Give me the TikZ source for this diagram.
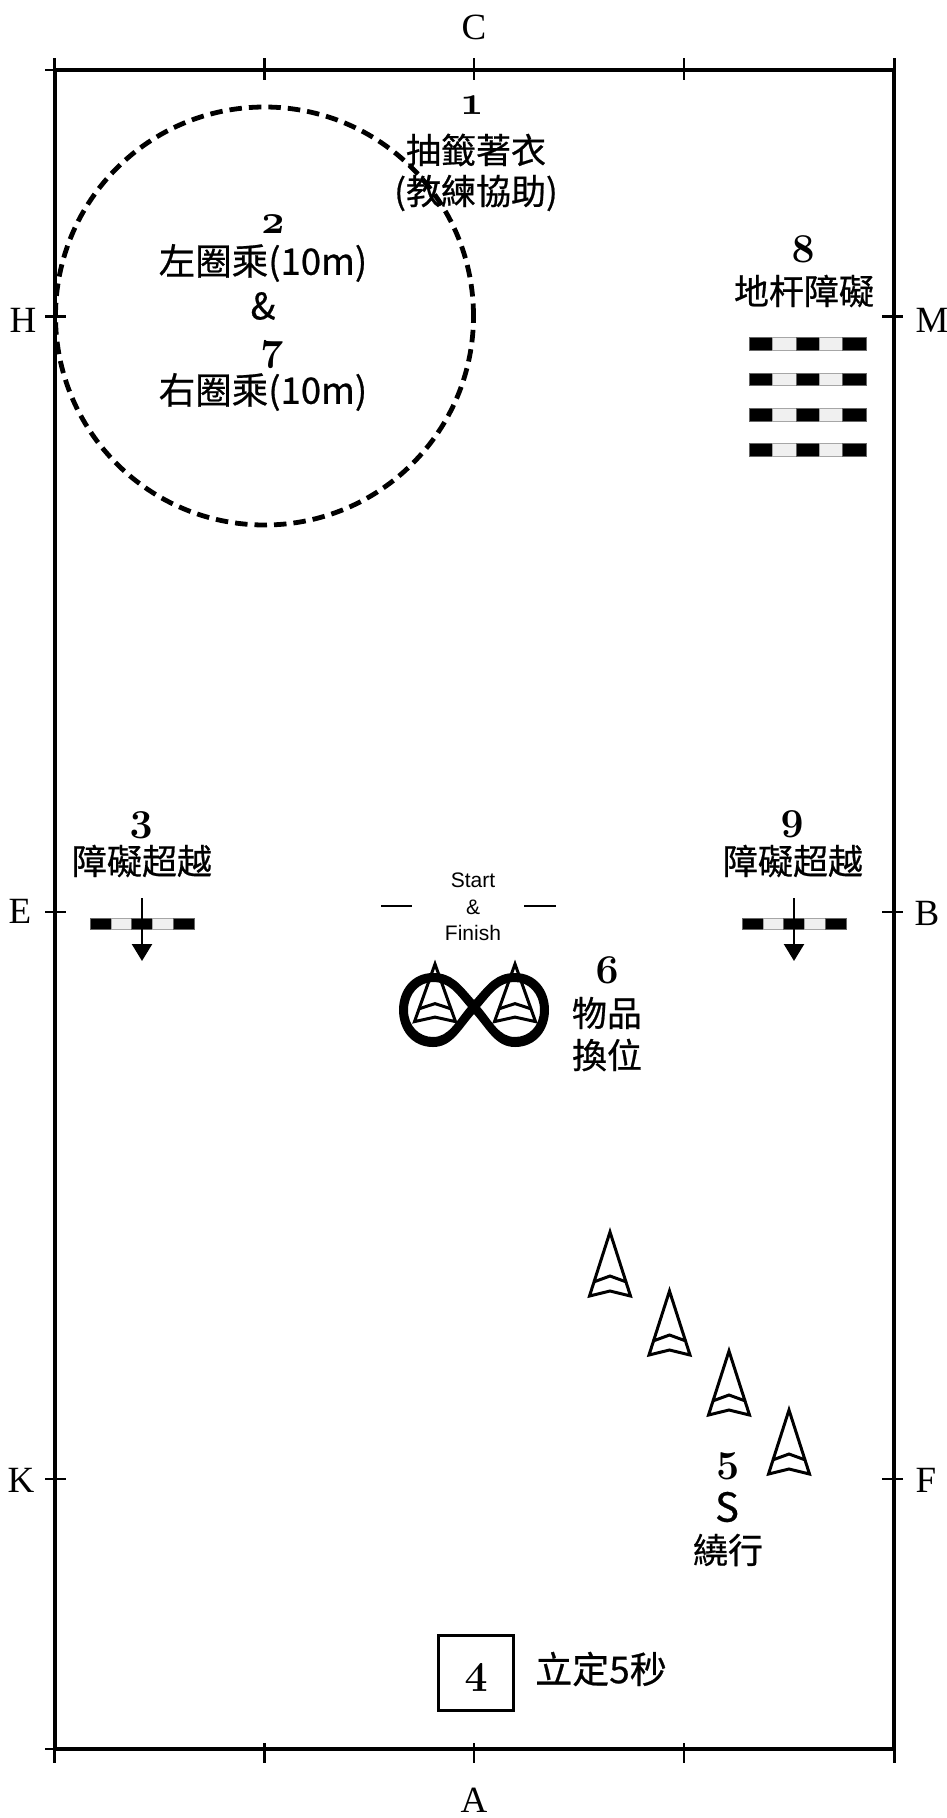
\documentclass[tikz,border=0pt]{standalone}
\usepackage{fontspec}
\setmainfont[FakeBold=0.6]{Noto Sans CJK TC}
\newfontfamily\numfont[Numbers=OldStyle]{Latin Modern Roman}
\newfontfamily\letfont{Liberation Serif}
\newfontfamily\sansfont{Liberation Sans}
\usetikzlibrary{arrows.meta}
\tikzset{
  x=1pt,y=-1pt,
  framel/.style={line width=4pt,black},
  tick/.style={line width=2.6pt,black},
  zh/.style={inner sep=0pt,font=\fontsize{35}{35}\selectfont},
  zhw/.style={inner sep=0pt,font=\fontsize{36.5}{36.5}\selectfont},
  num/.style={inner sep=0pt,font=\fontsize{41}{41}\numfont\bfseries},
  edge/.style={inner sep=0pt,font=\fontsize{37}{37}\letfont},
  sf/.style={inner sep=0pt,font=\fontsize{21}{21}\sansfont},
  conel/.style={line width=3pt,black,line join=miter},
  darkbar/.style={fill=black,draw=black!60,line width=.6pt},
  lightbar/.style={fill=black!6,draw=black!35,line width=.6pt},
  arrowl/.style={line width=2.4pt,black,-{Triangle[width=20pt,length=17pt]}},
}
\newcommand{\cone}[3]{% tip x, tip y, scale
  \begin{scope}[shift={(#1,#2)},yscale=#3]
    \draw[conel] (-20.5,64) -- (0,0) -- (20.5,64) -- (0,59) -- cycle;
    \draw[conel] (-16.5,50) -- (0,44) -- (16.5,50);
  \end{scope}}
\newcommand{\barrier}[4]{% left x, center y, seg width, height
  \begin{scope}[shift={(#1,#2)}]
    \foreach \i/\s in {0/darkbar,1/lightbar,2/darkbar,3/lightbar,4/darkbar}
      \path[\s] ({\i*#3},{-#4/2}) rectangle ({(\i+1)*#3},{#4/2});
  \end{scope}}
\begin{document}
\begin{tikzpicture}
\useasboundingbox (0,0) rectangle (947,1818);
\fill[white] (0,0) rectangle (947,1818);
% frame
\draw[framel] (54.5,69.5) rectangle (894.3,1749);
\foreach \x in {54.5,264.5,474,684,894.3} {
  \draw[tick] (\x,58) -- (\x,80);
  \draw[tick] (\x,1743) -- (\x,1763);
}
\foreach \y in {70,316.5,912,1479,1749} {
  \draw[tick] (45,\y) -- (66,\y);
}
\foreach \y in {316.5,912,1479} {
  \draw[tick] (882,\y) -- (903,\y);
}
% edge letters
\node[edge] (lc) at (474,27) {C};
\node[edge] (lh) at (23,320) {H};
\node[edge] (lm) at (932,320) {M};
\node[edge] (le) at (20,911) {E};
\node[edge] (lb) at (927,913) {B};
\node[edge] (lk) at (21,1480) {K};
\node[edge] (lf) at (926,1480) {F};
\node[edge] (la) at (474,1800) {A};
% circle
\draw[line width=4.8pt,dash pattern=on 12.5pt off 7pt] (264.5,316) circle[radius=209pt];
% 1
\node[num] (n1) at (472,105) {1};
\node[zh] (t1a) at (476,150) {抽籤著衣};
\node[zh] (t1b) at (476,193) {(教練協助)};
% 2 & 7
\node[num] (n2) at (273,224) {2};
\node[zhw] (t2) at (263,263) {左圈乘(10m)};
\node[zhw] (amp) at (263,306) {\&};
\node[num] (n7) at (273,355) {7};
\node[zhw] (t7) at (263,392) {右圈乘(10m)};
% 8
\node[num] (n8) at (803,249) {8};
\node[zh] (t8) at (804,291) {地杆障礙};
\foreach \y in {344,379.5,415,450} { \barrier{749}{\y}{23.4}{12.5} }
% 3
\node[num] (n3) at (141,825) {3};
\node[zh] (t3) at (142,861) {障礙超越};
\barrier{90}{924}{20.8}{11.5}
\coordinate (a3s) at (142,898);
\coordinate (a3e) at (142,961);
\draw[arrowl] (a3s) -- (a3e);
% 9
\node[num] (n9) at (792,824) {9};
\node[zh] (t9) at (793,861) {障礙超越};
\barrier{742}{924}{20.8}{11.5}
\coordinate (a9s) at (794,898);
\coordinate (a9e) at (794,961);
\draw[arrowl] (a9s) -- (a9e);
% start / finish
\node[sf] (s1) at (473,880) {Start};
\node[sf] (s2) at (473,907) {\&};
\node[sf] (s3) at (473,933) {Finish};
\coordinate (g1a) at (381,906); \coordinate (g1b) at (412,906);
\coordinate (g2a) at (524,906); \coordinate (g2b) at (556,906);
\draw[line width=2.4pt] (g1a) -- (g1b);
\draw[line width=2.4pt] (g2a) -- (g2b);
% infinity
\fill[black,even odd rule]
  (474,1000) .. controls (460,984) and (452,973) .. (433,973)
  .. controls (412,973) and (399,990) .. (399,1010)
  .. controls (399,1030) and (412,1047) .. (433,1047)
  .. controls (452,1047) and (460,1030) .. (474,1014)
  .. controls (488,1030) and (496,1047) .. (515,1047)
  .. controls (536,1047) and (549,1030) .. (549,1010)
  .. controls (549,990) and (536,973) .. (515,973)
  .. controls (496,973) and (488,984) .. (474,1000) -- cycle
  (468,1007) .. controls (456,993) and (449,982) .. (433,982)
  .. controls (419,982) and (408,994) .. (408,1010)
  .. controls (408,1026) and (419,1037) .. (433,1037)
  .. controls (449,1037) and (456,1021) .. (468,1007) -- cycle
  (480,1007) .. controls (492,993) and (499,982) .. (515,982)
  .. controls (529,982) and (540,994) .. (540,1010)
  .. controls (540,1026) and (529,1037) .. (515,1037)
  .. controls (499,1037) and (492,1021) .. (480,1007) -- cycle;
\cone{435}{964}{0.9}
\cone{515}{964}{0.9}
% 6
\node[num] (n6) at (607,970) {6};
\node[zh] (t6a) at (607,1013) {物品};
\node[zh] (t6b) at (607,1055) {換位};
% cones
\cone{610}{1232}{1}
\cone{669.5}{1291}{1}
\cone{729}{1351}{1}
\cone{789}{1410}{1}
% 5
\node[num] (n5) at (728,1466) {5};
\node[inner sep=0pt,font=\fontsize{40}{40}\selectfont] (t5a) at (727,1507) {S};
\node[zh] (t5b) at (728,1550) {繞行};
% 4
\node[draw,line width=3pt,minimum size=75pt,inner sep=0pt] (box4) at (475.5,1673) {};
\node[num] (n4) at (476,1677) {4};
\node[inner sep=0pt,font=\fontsize{37}{37}\selectfont] (t4) at (601,1669) {立定5秒};
\end{tikzpicture}
\end{document}
